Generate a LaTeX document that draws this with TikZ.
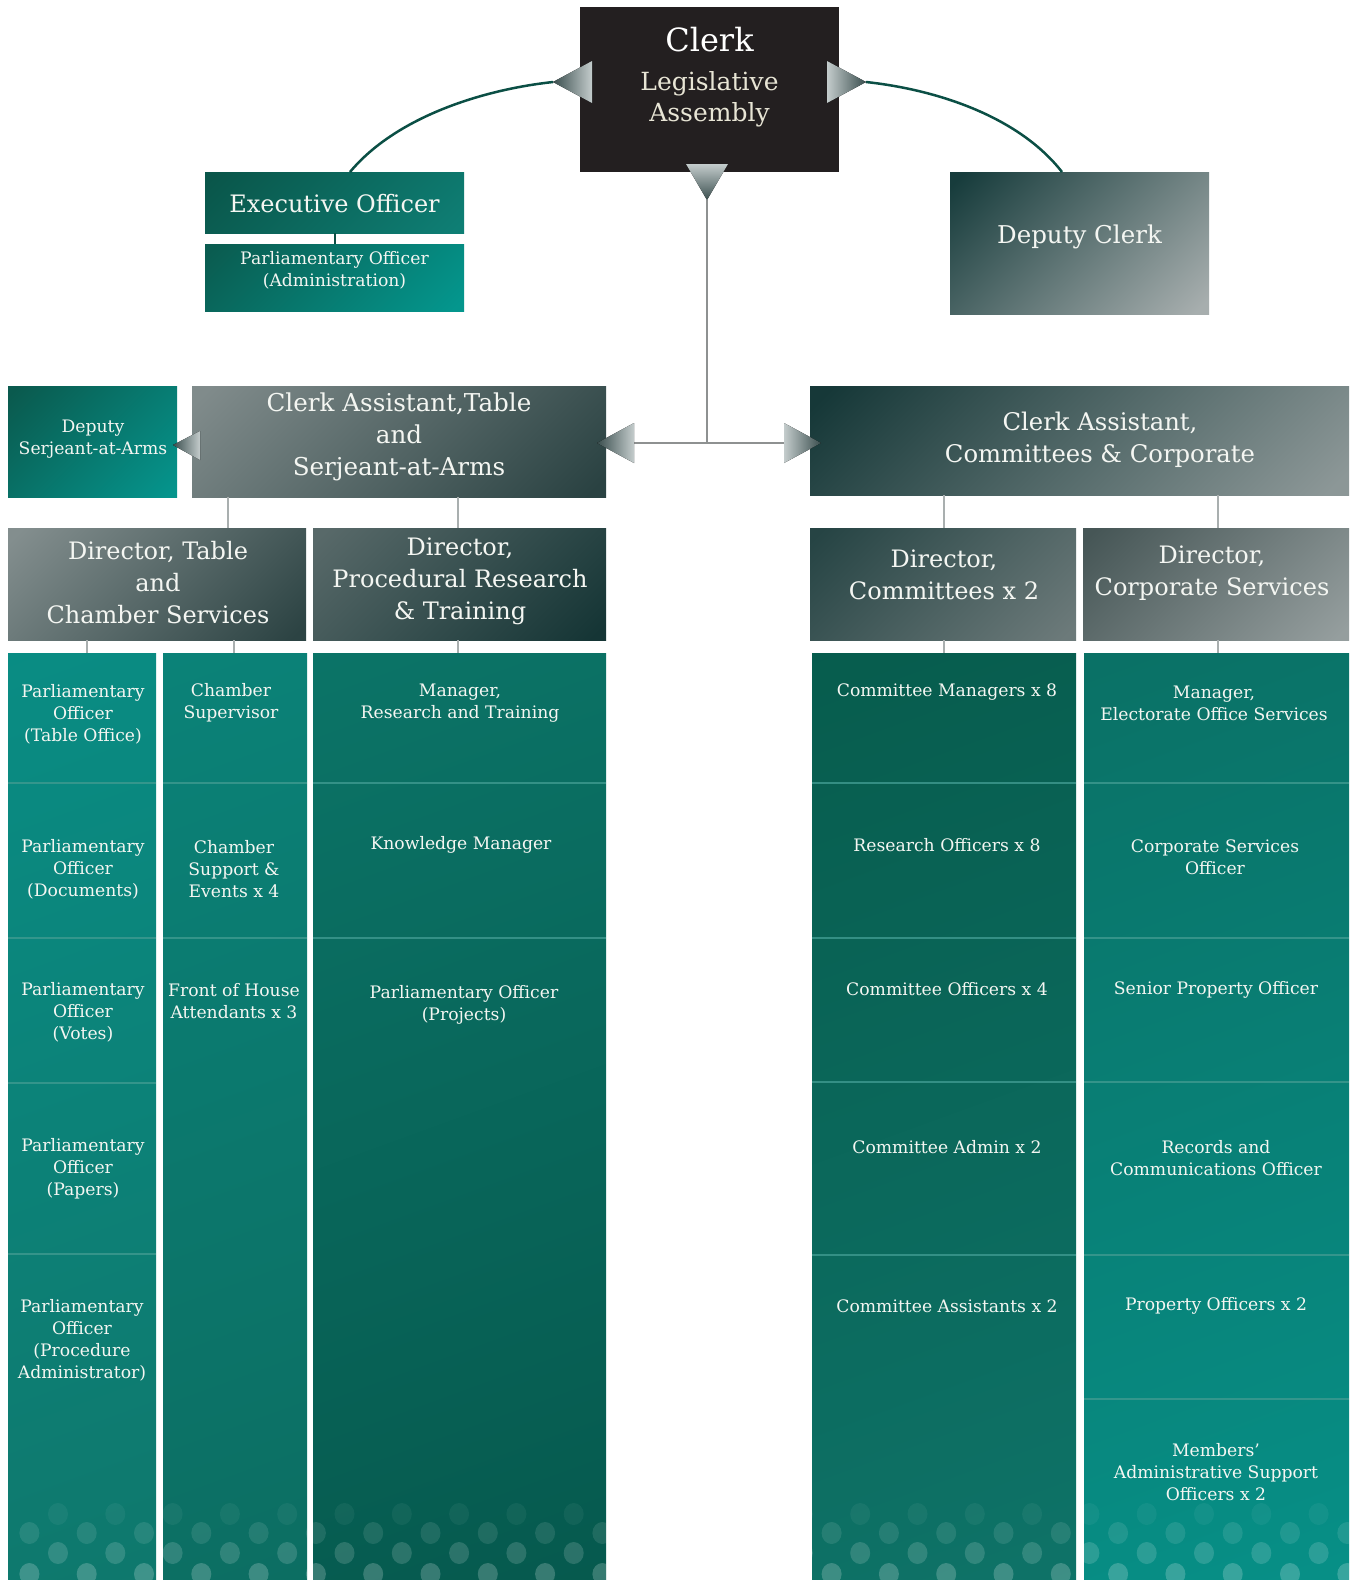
\documentclass[tikz,border=0pt]{standalone}
\usepackage{tikz}
\usepackage{fontspec}
\setmainfont{DejaVu Serif}
\definecolor{clerkbg}{HTML}{231F20}
\definecolor{cream}{HTML}{E8E5D5}
\definecolor{txtw}{HTML}{F4F6F2}
\definecolor{arcteal}{HTML}{0B4F45}
\definecolor{stubgray}{HTML}{A9AFAF}
\definecolor{mainline}{HTML}{8E9191}
\definecolor{triDark}{HTML}{3A4E4E}
\definecolor{triLight}{HTML}{C4CCCC}
\definecolor{sepline}{HTML}{3F9A90}
% gradient colours: A = top-left, B = bottom-right
\newcommand\mkshade[3]{%
  \definecolor{#1A}{HTML}{#2}\definecolor{#1B}{HTML}{#3}%
  \pgfdeclareverticalshading{#1}{100bp}{color(0bp)=(#1B); color(100bp)=(#1A)}}
\newcommand\mkboxshade[3]{%
  \definecolor{#1A}{HTML}{#2}\definecolor{#1B}{HTML}{#3}%
  \pgfdeclareverticalshading{#1}{100bp}{color(0bp)=(#1B); color(17bp)=(#1B); color(83bp)=(#1A); color(100bp)=(#1A)}}
\mkboxshade{shExec}{0A564A}{0E7E74}
\mkboxshade{shPoadm}{0A5C50}{04968D}
\mkboxshade{shDclerk}{173C3C}{A7AEAE}
\mkboxshade{shDserj}{0A5A4E}{05948C}
\mkboxshade{shCatable}{808B8B}{2A4242}
\mkboxshade{shCacomm}{163838}{8C9797}
\mkboxshade{shDirtable}{838E8E}{2C4343}
\mkboxshade{shDirproc}{586969}{153535}
\mkboxshade{shDircomm}{264444}{6C7A7A}
\mkboxshade{shDircorp}{465656}{959E9E}
\mkshade{shColA}{08928A}{107266}
\mkshade{shColB}{0B887E}{0C685C}
\mkshade{shColC}{0D7B6E}{045247}
\mkshade{shColD}{055646}{10796F}
\mkshade{shColE}{0B685C}{069890}
\tikzset{
  box/.style={rectangle, inner sep=0pt, outer sep=0pt, draw=none},
  txt/.style={text=txtw, align=center, inner sep=0pt},
  cell/.style={txt, font=\fontsize{17.2}{22}\selectfont},
  head/.style={txt, font=\fontsize{24}{32}\selectfont},
  stub/.style={draw=stubgray, line width=2pt},
  sep/.style={draw=sepline, line width=2pt, opacity=0.8},
  arcline/.style={draw=arcteal, line width=2.5pt},
  hubline/.style={draw=mainline, line width=2.6pt},
  grad/.style={shading=#1, shading angle=45},
  cgrad/.style={shading=#1, shading angle=20},
}
\newcommand\orgbox[6]{\node[box,#6,minimum width={(#4)-(#2)},minimum height={(#5)-(#3)}] (#1) at ({((#2)+(#4))/2},{((#3)+(#5))/2}) {};}
\begin{document}
\begin{tikzpicture}[x=1pt,y=-1pt]
\useasboundingbox (0,0) rectangle (1353,1580);
\fill[white] (0,0) rectangle (1353,1580);

% ---------- boxes ----------
\orgbox{clerk}{580}{7}{839}{172}{fill=clerkbg}
\orgbox{exec}{205}{172}{464}{233}{grad=shExec}
\orgbox{poadm}{205}{244}{464}{311}{grad=shPoadm}
\orgbox{dclerk}{950}{172}{1209}{314}{grad=shDclerk}
\orgbox{dserj}{8}{386}{177}{497}{grad=shDserj}
\orgbox{catable}{192}{386}{606}{497}{grad=shCatable}
\orgbox{cacomm}{810}{386}{1349}{495}{grad=shCacomm}
\orgbox{dirtable}{8}{528}{306}{640}{grad=shDirtable}
\orgbox{dirproc}{313}{528}{606}{640}{grad=shDirproc}
\orgbox{dircomm}{810}{528}{1076}{640}{grad=shDircomm}
\orgbox{dircorp}{1083}{528}{1349}{640}{grad=shDircorp}

% ---------- columns ----------
\orgbox{col1}{8}{653}{156}{1580}{cgrad=shColA}
\orgbox{col2}{163}{653}{307}{1580}{cgrad=shColB}
\orgbox{col3}{313}{653}{606}{1580}{cgrad=shColC}
\orgbox{col4}{812}{653}{1076}{1580}{cgrad=shColD}
\orgbox{col5}{1084}{653}{1349}{1580}{cgrad=shColE}

% dots
\begin{scope}
\clip (8,653) rectangle (156,1580) (163,653) rectangle (307,1580) (313,653) rectangle (606,1580) (812,653) rectangle (1076,1580) (1084,653) rectangle (1349,1580);
\foreach \k in {0,...,24}{
  \fill[white, opacity=0.05] ({58+57.3*\k},1514) ellipse [x radius=10, y radius=11];
  \fill[white, opacity=0.10] ({29.4+57.3*\k},1533) ellipse [x radius=10, y radius=11];
  \fill[white, opacity=0.15] ({58+57.3*\k},1553) ellipse [x radius=10, y radius=11];
  \fill[white, opacity=0.20] ({29.4+57.3*\k},1574) ellipse [x radius=10, y radius=11];
}
\end{scope}

% separators
\foreach \yy in {783,938,1083,1254}{\draw[sep] (8,\yy) -- (156,\yy);}
\foreach \yy in {783,938}{\draw[sep] (163,\yy) -- (307,\yy); \draw[sep] (313,\yy) -- (606,\yy);}
\foreach \yy in {783,938,1082,1255}{\draw[sep] (812,\yy) -- (1076,\yy);}
\foreach \yy in {783,938,1082,1255,1399}{\draw[sep] (1084,\yy) -- (1349,\yy);}

% ---------- connectors ----------
\coordinate (clerkL) at (553,82);
\coordinate (clerkR) at (866,82);
\coordinate (clerkB) at (707,200);
\coordinate (hub) at (707,443);
\coordinate (hubL) at (634,443);
\coordinate (hubR) at (784,443);

\draw[arcline] (350,0 |- exec.north) .. controls (395,118) and (480,90) .. (clerkL);
\draw[arcline] (clerkR) .. controls (940,90) and (1020,118) .. (1062,0 |- dclerk.north);
\draw[draw=arcteal, line width=2pt] (exec.south) -- (poadm.north);
\draw[hubline] (clerkB) -- (hub);
\draw[hubline] (hubL) -- (hubR);

\draw[stub] (228,0 |- catable.south) -- (228,0 |- dirtable.north);
\draw[stub] (458,0 |- catable.south) -- (458,0 |- dirproc.north);
\draw[stub] (944,0 |- cacomm.south) -- (944,0 |- dircomm.north);
\draw[stub] (1218,0 |- cacomm.south) -- (1218,0 |- dircorp.north);
\draw[stub] (87,0 |- dirtable.south) -- (87,0 |- col1.north);
\draw[stub] (234,0 |- dirtable.south) -- (234,0 |- col2.north);
\draw[stub] (458,0 |- dirproc.south) -- (458,0 |- col3.north);
\draw[stub] (944,0 |- dircomm.south) -- (944,0 |- col4.north);
\draw[stub] (1218,0 |- dircorp.south) -- (1218,0 |- col5.north);

% arrow heads
\fill[left color=triDark, right color=triLight] (clerkL) -- (592,61) -- (592,103) -- cycle;
\fill[left color=triLight, right color=triDark] (clerkR) -- (827,61) -- (827,103) -- cycle;
\fill[top color=triLight, bottom color=triDark] (clerkB) -- (686,164) -- (728,164) -- cycle;
\fill[left color=triDark, right color=triLight] (597,443) -- (hubL |- 0,423) -- (hubL |- 0,463) -- cycle;
\fill[left color=triLight, right color=triDark] (hubR |- 0,423) -- (821,443) -- (hubR |- 0,463) -- cycle;
\fill[left color=triDark, right color=triLight] (173,445) -- (200,431) -- (200,460) -- cycle;

% ---------- texts ----------
\node[txt, text=white, font=\fontsize{32}{36}\selectfont] (tclerk) at (709.5,40) {Clerk};
\node[txt, text=cream, font=\fontsize{25}{31}\selectfont] (tla) at (709.5,99) {Legislative\\Assembly};
\node[txt, font=\fontsize{24}{32}\selectfont] (texec) at (334.5,204) {Executive Officer};
\node[txt, font=\fontsize{17.2}{22}\selectfont] (tpoadm) at (334.5,270) {Parliamentary Officer\\(Administration)};
\node[txt, font=\fontsize{24.5}{32}\selectfont] (tdclerk) at (1079.5,237) {Deputy Clerk};
\node[txt, font=\fontsize{17.2}{22}\selectfont] (tdserj) at (93,439) {Deputy\\Serjeant-at-Arms};
\node[head, font=\fontsize{24.6}{32}\selectfont] (tcatable) at (399,437) {Clerk Assistant,Table\\and\\Serjeant-at-Arms};
\node[head, font=\fontsize{24.3}{32}\selectfont] (tcacomm) at (1100,440) {Clerk Assistant,\\Committees \& Corporate};
\node[head] (tdirtable) at (158,583) {Director, Table\\and\\Chamber Services};
\node[head] (tdirproc) at (460,581) {Director,\\Procedural Research\\\& Training};
\node[head] (tdircomm) at (944,575) {Director,\\Committees x 2};
\node[head] (tdircorp) at (1212,573) {Director,\\Corporate Services};

\node[cell] (c1a) at (83,714) {Parliamentary\\Officer\\(Table Office)};
\node[cell] (c1b) at (83,869) {Parliamentary\\Officer\\(Documents)};
\node[cell] (c1c) at (83,1012) {Parliamentary\\Officer\\(Votes)};
\node[cell] (c1d) at (83,1169) {Parliamentary\\Officer\\(Papers)};
\node[cell] (c1e) at (82,1340) {Parliamentary\\Officer\\(Procedure\\Administrator)};

\node[cell] (c2a) at (231,703) {Chamber\\Supervisor};
\node[cell] (c2b) at (234,869) {Chamber\\Support \&\\Events x 4};
\node[cell] (c2c) at (234,1001) {Front of House\\Attendants x 3};

\node[cell] (c3a) at (460,703) {Manager,\\Research and Training};
\node[cell] (c3b) at (461,845) {Knowledge Manager};
\node[cell] (c3c) at (464,1005) {Parliamentary Officer\\(Projects)};

\node[cell] (c4a) at (947,692) {Committee Managers x 8};
\node[cell] (c4b) at (947,845) {Research Officers x 8};
\node[cell] (c4c) at (947,989) {Committee Officers x 4};
\node[cell] (c4d) at (947,1147) {Committee Admin x 2};
\node[cell] (c4e) at (947,1306) {Committee Assistants x 2};

\node[cell] (c5a) at (1214,703) {Manager,\\Electorate Office Services};
\node[cell] (c5b) at (1215,857) {Corporate Services\\Officer};
\node[cell] (c5c) at (1216,990) {Senior Property Officer};
\node[cell] (c5d) at (1216,1158) {Records and\\Communications Officer};
\node[cell] (c5e) at (1216,1306) {Property Officers x 2};
\node[cell] (c5f) at (1216,1472) {Members’\\Administrative Support\\Officers x 2};
\end{tikzpicture}
\end{document}
